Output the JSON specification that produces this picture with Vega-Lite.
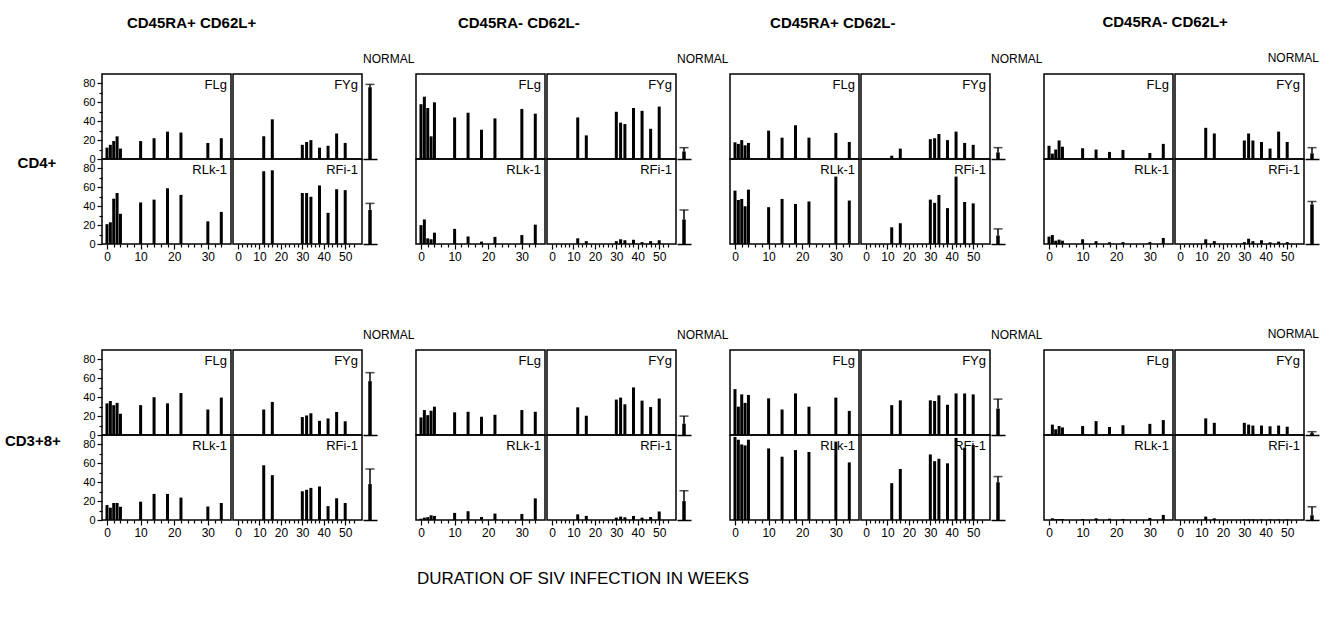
{
  "$schema": "https://vega.github.io/schema/vega-lite/v6.json",
  "padding": {"left": 4, "top": 15, "right": 5, "bottom": 5},
  "spacing": 66,
  "title": {"text": "DURATION OF SIV INFECTION IN WEEKS", "orient": "bottom", "frame": "bounds", "anchor": "middle", "dx": -79, "offset": 33, "fontSize": 17, "fontWeight": "normal"},
  "vconcat": [
    {
      "hconcat": [
        {
          "hconcat": [
            {"data": {"name": "cd4_1L"}, "facet": {"row": {"field": "virus", "type": "nominal", "header": {"labels": false, "title": null}}}, "spacing": 0, "bounds": "flush",
             "spec": {"width": 129, "height": 85,
              "layer": [
                {"mark": {"type": "bar", "orient": "vertical", "width": 3},
                 "encoding": {
                  "x": {"field": "week", "type": "quantitative", "scale": {"domain": [0, 35.4], "nice": false, "zero": false}, "axis": {"values": [0,2,4,6,8,10,12,14,16,18,20,22,24,26,28,30,32,34], "labelExpr": "datum.value % 10 === 0 ? datum.label : ''", "tickSize": {"condition": {"test": "datum.value % 10 === 0", "value": 5}, "value": 3}, "title": null, "domain": false, "labelFontSize": 12, "labelOverlap": false, "labelFlush": true, "labelPadding": 2}},
                  "y": {"field": "pct", "type": "quantitative", "scale": {"domain": [0, 90], "nice": false}, "axis": {"values": [0,10,20,30,40,50,60,70,80], "labelExpr": "datum.value % 20 === 0 ? datum.label : ''", "tickSize": {"condition": {"test": "datum.value % 20 === 0", "value": 5}, "value": 3}, "title": null, "domain": false, "labelFontSize": 11, "labelPadding": 2, "labelOverlap": false}}
                 }},
                {"transform": [{"aggregate": [{"op": "count", "as": "n"}], "groupby": ["virus"]}],
                 "mark": {"type": "text", "align": "right", "baseline": "top", "dx": -4, "dy": 5, "fontSize": 13},
                 "encoding": {"x": {"value": "width"}, "y": {"value": 0}, "text": {"field": "virus", "type": "nominal"}}}
              ]}},
            {"data": {"name": "cd4_1R"}, "facet": {"row": {"field": "virus", "type": "nominal", "header": {"labels": false, "title": null}}}, "spacing": 0, "bounds": "flush",
             "spec": {"width": 129, "height": 85,
              "layer": [
                {"mark": {"type": "bar", "orient": "vertical", "width": 3},
                 "encoding": {
                  "x": {"field": "week", "type": "quantitative", "scale": {"domain": [0, 55.5], "nice": false, "zero": false}, "axis": {"values": [0,2,4,6,8,10,12,14,16,18,20,22,24,26,28,30,32,34,36,38,40,42,44,46,48,50,52,54], "labelExpr": "datum.value % 10 === 0 ? datum.label : ''", "tickSize": {"condition": {"test": "datum.value % 10 === 0", "value": 5}, "value": 3}, "title": null, "domain": false, "labelFontSize": 12, "labelOverlap": false, "labelFlush": true, "labelPadding": 2}},
                  "y": {"field": "pct", "type": "quantitative", "scale": {"domain": [0, 90], "nice": false}, "axis": null}
                 }},
                {"transform": [{"aggregate": [{"op": "count", "as": "n"}], "groupby": ["virus"]}],
                 "mark": {"type": "text", "align": "right", "baseline": "top", "dx": -4, "dy": 5, "fontSize": 13},
                 "encoding": {"x": {"value": "width"}, "y": {"value": 0}, "text": {"field": "virus", "type": "nominal"}}}
              ]}},
            {"data": {"name": "cd4_1N"}, "facet": {"row": {"field": "virus", "type": "nominal", "header": {"labels": false, "title": null}}}, "spacing": 0, "bounds": "flush", "resolve": {"axis": {"x": "independent"}},
             "title": {"text": "NORMAL", "anchor": "start", "frame": "bounds", "offset": 8, "fontSize": 12, "fontWeight": "normal"},
             "spec": {"width": 14, "height": 85, "view": {"stroke": null},
              "encoding": {"x": {"field": "cell", "type": "nominal", "axis": {"labels": false, "ticks": false, "title": null, "domain": true, "domainWidth": 1.5}}},
              "layer": [
                {"mark": {"type": "bar", "width": 3.5}, "encoding": {"y": {"field": "mean", "type": "quantitative", "scale": {"domain": [0, 90], "nice": false}, "axis": null}}},
                {"mark": {"type": "rule", "strokeWidth": 1.5}, "encoding": {"y": {"field": "mean", "type": "quantitative"}, "y2": {"field": "upper"}}},
                {"mark": {"type": "tick", "thickness": 1.5, "size": 9, "orient": "horizontal"}, "encoding": {"y": {"field": "upper", "type": "quantitative"}}}
              ]}}
          ],
          "spacing": 0,
          "title": {"text": "CD45RA+ CD62L+", "frame": "bounds", "anchor": "middle", "dx": -57, "offset": 22, "fontSize": 15, "fontWeight": "bold"}
        },
        {
          "hconcat": [
            {"data": {"name": "cd4_2L"}, "facet": {"row": {"field": "virus", "type": "nominal", "header": {"labels": false, "title": null}}}, "spacing": 0, "bounds": "flush",
             "spec": {"width": 129, "height": 85,
              "layer": [
                {"mark": {"type": "bar", "orient": "vertical", "width": 3},
                 "encoding": {
                  "x": {"field": "week", "type": "quantitative", "scale": {"domain": [0, 35.4], "nice": false, "zero": false}, "axis": {"values": [0,2,4,6,8,10,12,14,16,18,20,22,24,26,28,30,32,34], "labelExpr": "datum.value % 10 === 0 ? datum.label : ''", "tickSize": {"condition": {"test": "datum.value % 10 === 0", "value": 5}, "value": 3}, "title": null, "domain": false, "labelFontSize": 12, "labelOverlap": false, "labelFlush": true, "labelPadding": 2}},
                  "y": {"field": "pct", "type": "quantitative", "scale": {"domain": [0, 90], "nice": false}, "axis": null}
                 }},
                {"transform": [{"aggregate": [{"op": "count", "as": "n"}], "groupby": ["virus"]}],
                 "mark": {"type": "text", "align": "right", "baseline": "top", "dx": -4, "dy": 5, "fontSize": 13},
                 "encoding": {"x": {"value": "width"}, "y": {"value": 0}, "text": {"field": "virus", "type": "nominal"}}}
              ]}},
            {"data": {"name": "cd4_2R"}, "facet": {"row": {"field": "virus", "type": "nominal", "header": {"labels": false, "title": null}}}, "spacing": 0, "bounds": "flush",
             "spec": {"width": 129, "height": 85,
              "layer": [
                {"mark": {"type": "bar", "orient": "vertical", "width": 3},
                 "encoding": {
                  "x": {"field": "week", "type": "quantitative", "scale": {"domain": [0, 55.5], "nice": false, "zero": false}, "axis": {"values": [0,2,4,6,8,10,12,14,16,18,20,22,24,26,28,30,32,34,36,38,40,42,44,46,48,50,52,54], "labelExpr": "datum.value % 10 === 0 ? datum.label : ''", "tickSize": {"condition": {"test": "datum.value % 10 === 0", "value": 5}, "value": 3}, "title": null, "domain": false, "labelFontSize": 12, "labelOverlap": false, "labelFlush": true, "labelPadding": 2}},
                  "y": {"field": "pct", "type": "quantitative", "scale": {"domain": [0, 90], "nice": false}, "axis": null}
                 }},
                {"transform": [{"aggregate": [{"op": "count", "as": "n"}], "groupby": ["virus"]}],
                 "mark": {"type": "text", "align": "right", "baseline": "top", "dx": -4, "dy": 5, "fontSize": 13},
                 "encoding": {"x": {"value": "width"}, "y": {"value": 0}, "text": {"field": "virus", "type": "nominal"}}}
              ]}},
            {"data": {"name": "cd4_2N"}, "facet": {"row": {"field": "virus", "type": "nominal", "header": {"labels": false, "title": null}}}, "spacing": 0, "bounds": "flush", "resolve": {"axis": {"x": "independent"}},
             "title": {"text": "NORMAL", "anchor": "start", "frame": "bounds", "offset": 8, "fontSize": 12, "fontWeight": "normal"},
             "spec": {"width": 14, "height": 85, "view": {"stroke": null},
              "encoding": {"x": {"field": "cell", "type": "nominal", "axis": {"labels": false, "ticks": false, "title": null, "domain": true, "domainWidth": 1.5}}},
              "layer": [
                {"mark": {"type": "bar", "width": 3.5}, "encoding": {"y": {"field": "mean", "type": "quantitative", "scale": {"domain": [0, 90], "nice": false}, "axis": null}}},
                {"mark": {"type": "rule", "strokeWidth": 1.5}, "encoding": {"y": {"field": "mean", "type": "quantitative"}, "y2": {"field": "upper"}}},
                {"mark": {"type": "tick", "thickness": 1.5, "size": 9, "orient": "horizontal"}, "encoding": {"y": {"field": "upper", "type": "quantitative"}}}
              ]}}
          ],
          "spacing": 0,
          "title": {"text": "CD45RA- CD62L-", "frame": "bounds", "anchor": "middle", "dx": -53, "offset": 22, "fontSize": 15, "fontWeight": "bold"}
        },
        {
          "hconcat": [
            {"data": {"name": "cd4_3L"}, "facet": {"row": {"field": "virus", "type": "nominal", "header": {"labels": false, "title": null}}}, "spacing": 0, "bounds": "flush",
             "spec": {"width": 129, "height": 85,
              "layer": [
                {"mark": {"type": "bar", "orient": "vertical", "width": 3},
                 "encoding": {
                  "x": {"field": "week", "type": "quantitative", "scale": {"domain": [0, 35.4], "nice": false, "zero": false}, "axis": {"values": [0,2,4,6,8,10,12,14,16,18,20,22,24,26,28,30,32,34], "labelExpr": "datum.value % 10 === 0 ? datum.label : ''", "tickSize": {"condition": {"test": "datum.value % 10 === 0", "value": 5}, "value": 3}, "title": null, "domain": false, "labelFontSize": 12, "labelOverlap": false, "labelFlush": true, "labelPadding": 2}},
                  "y": {"field": "pct", "type": "quantitative", "scale": {"domain": [0, 90], "nice": false}, "axis": null}
                 }},
                {"transform": [{"aggregate": [{"op": "count", "as": "n"}], "groupby": ["virus"]}],
                 "mark": {"type": "text", "align": "right", "baseline": "top", "dx": -4, "dy": 5, "fontSize": 13},
                 "encoding": {"x": {"value": "width"}, "y": {"value": 0}, "text": {"field": "virus", "type": "nominal"}}}
              ]}},
            {"data": {"name": "cd4_3R"}, "facet": {"row": {"field": "virus", "type": "nominal", "header": {"labels": false, "title": null}}}, "spacing": 0, "bounds": "flush",
             "spec": {"width": 129, "height": 85,
              "layer": [
                {"mark": {"type": "bar", "orient": "vertical", "width": 3},
                 "encoding": {
                  "x": {"field": "week", "type": "quantitative", "scale": {"domain": [0, 55.5], "nice": false, "zero": false}, "axis": {"values": [0,2,4,6,8,10,12,14,16,18,20,22,24,26,28,30,32,34,36,38,40,42,44,46,48,50,52,54], "labelExpr": "datum.value % 10 === 0 ? datum.label : ''", "tickSize": {"condition": {"test": "datum.value % 10 === 0", "value": 5}, "value": 3}, "title": null, "domain": false, "labelFontSize": 12, "labelOverlap": false, "labelFlush": true, "labelPadding": 2}},
                  "y": {"field": "pct", "type": "quantitative", "scale": {"domain": [0, 90], "nice": false}, "axis": null}
                 }},
                {"transform": [{"aggregate": [{"op": "count", "as": "n"}], "groupby": ["virus"]}],
                 "mark": {"type": "text", "align": "right", "baseline": "top", "dx": -4, "dy": 5, "fontSize": 13},
                 "encoding": {"x": {"value": "width"}, "y": {"value": 0}, "text": {"field": "virus", "type": "nominal"}}}
              ]}},
            {"data": {"name": "cd4_3N"}, "facet": {"row": {"field": "virus", "type": "nominal", "header": {"labels": false, "title": null}}}, "spacing": 0, "bounds": "flush", "resolve": {"axis": {"x": "independent"}},
             "title": {"text": "NORMAL", "anchor": "start", "frame": "bounds", "offset": 8, "fontSize": 12, "fontWeight": "normal"},
             "spec": {"width": 14, "height": 85, "view": {"stroke": null},
              "encoding": {"x": {"field": "cell", "type": "nominal", "axis": {"labels": false, "ticks": false, "title": null, "domain": true, "domainWidth": 1.5}}},
              "layer": [
                {"mark": {"type": "bar", "width": 3.5}, "encoding": {"y": {"field": "mean", "type": "quantitative", "scale": {"domain": [0, 90], "nice": false}, "axis": null}}},
                {"mark": {"type": "rule", "strokeWidth": 1.5}, "encoding": {"y": {"field": "mean", "type": "quantitative"}, "y2": {"field": "upper"}}},
                {"mark": {"type": "tick", "thickness": 1.5, "size": 9, "orient": "horizontal"}, "encoding": {"y": {"field": "upper", "type": "quantitative"}}}
              ]}}
          ],
          "spacing": 0,
          "title": {"text": "CD45RA+ CD62L-", "frame": "bounds", "anchor": "middle", "dx": -53, "offset": 22, "fontSize": 15, "fontWeight": "bold"}
        },
        {
          "hconcat": [
            {
              "hconcat": [
                {"data": {"name": "cd4_4L"}, "facet": {"row": {"field": "virus", "type": "nominal", "header": {"labels": false, "title": null}}}, "spacing": 0, "bounds": "flush",
                 "spec": {"width": 129, "height": 85,
                  "layer": [
                    {"mark": {"type": "bar", "orient": "vertical", "width": 3},
                     "encoding": {
                      "x": {"field": "week", "type": "quantitative", "scale": {"domain": [0, 35.4], "nice": false, "zero": false}, "axis": {"values": [0,2,4,6,8,10,12,14,16,18,20,22,24,26,28,30,32,34], "labelExpr": "datum.value % 10 === 0 ? datum.label : ''", "tickSize": {"condition": {"test": "datum.value % 10 === 0", "value": 5}, "value": 3}, "title": null, "domain": false, "labelFontSize": 12, "labelOverlap": false, "labelFlush": true, "labelPadding": 2}},
                      "y": {"field": "pct", "type": "quantitative", "scale": {"domain": [0, 90], "nice": false}, "axis": null}
                     }},
                    {"transform": [{"aggregate": [{"op": "count", "as": "n"}], "groupby": ["virus"]}],
                     "mark": {"type": "text", "align": "right", "baseline": "top", "dx": -4, "dy": 5, "fontSize": 13},
                     "encoding": {"x": {"value": "width"}, "y": {"value": 0}, "text": {"field": "virus", "type": "nominal"}}}
                  ]}},
                {"data": {"name": "cd4_4R"}, "facet": {"row": {"field": "virus", "type": "nominal", "header": {"labels": false, "title": null}}}, "spacing": 0, "bounds": "flush",
                 "spec": {"width": 129, "height": 85,
                  "layer": [
                    {"mark": {"type": "bar", "orient": "vertical", "width": 3},
                     "encoding": {
                      "x": {"field": "week", "type": "quantitative", "scale": {"domain": [0, 55.5], "nice": false, "zero": false}, "axis": {"values": [0,2,4,6,8,10,12,14,16,18,20,22,24,26,28,30,32,34,36,38,40,42,44,46,48,50,52,54], "labelExpr": "datum.value % 10 === 0 ? datum.label : ''", "tickSize": {"condition": {"test": "datum.value % 10 === 0", "value": 5}, "value": 3}, "title": null, "domain": false, "labelFontSize": 12, "labelOverlap": false, "labelFlush": true, "labelPadding": 2}},
                      "y": {"field": "pct", "type": "quantitative", "scale": {"domain": [0, 90], "nice": false}, "axis": null}
                     }},
                    {"transform": [{"aggregate": [{"op": "count", "as": "n"}], "groupby": ["virus"]}],
                     "mark": {"type": "text", "align": "right", "baseline": "top", "dx": -4, "dy": 5, "fontSize": 13},
                     "encoding": {"x": {"value": "width"}, "y": {"value": 0}, "text": {"field": "virus", "type": "nominal"}}}
                  ]}},
                {"data": {"name": "cd4_4N"}, "facet": {"row": {"field": "virus", "type": "nominal", "header": {"labels": false, "title": null}}}, "spacing": 0, "bounds": "flush", "resolve": {"axis": {"x": "independent"}},
                 "spec": {"width": 14, "height": 85, "view": {"stroke": null},
                  "encoding": {"x": {"field": "cell", "type": "nominal", "axis": {"labels": false, "ticks": false, "title": null, "domain": true, "domainWidth": 1.5}}},
                  "layer": [
                    {"mark": {"type": "bar", "width": 3.5}, "encoding": {"y": {"field": "mean", "type": "quantitative", "scale": {"domain": [0, 90], "nice": false}, "axis": null}}},
                    {"mark": {"type": "rule", "strokeWidth": 1.5}, "encoding": {"y": {"field": "mean", "type": "quantitative"}, "y2": {"field": "upper"}}},
                    {"mark": {"type": "tick", "thickness": 1.5, "size": 9, "orient": "horizontal"}, "encoding": {"y": {"field": "upper", "type": "quantitative"}}}
                  ]}}
              ],
              "spacing": 0,
              "title": {"text": "NORMAL", "anchor": "end", "frame": "bounds", "offset": 8, "fontSize": 12, "fontWeight": "normal"}
            }
          ],
          "title": {"text": "CD45RA- CD62L+", "frame": "bounds", "anchor": "middle", "dx": -16, "offset": 22, "fontSize": 15, "fontWeight": "bold"}
        }
      ],
      "spacing": 0,
      "title": {"text": "CD4+", "orient": "left", "frame": "bounds", "anchor": "middle", "angle": 0, "baseline": "middle", "dy": 24, "offset": 7, "fontSize": 15, "fontWeight": "bold"}
    },
    {
      "hconcat": [
        {
          "hconcat": [
            {"data": {"name": "cd8_1L"}, "facet": {"row": {"field": "virus", "type": "nominal", "header": {"labels": false, "title": null}}}, "spacing": 0, "bounds": "flush",
             "spec": {"width": 129, "height": 85,
              "layer": [
                {"mark": {"type": "bar", "orient": "vertical", "width": 3},
                 "encoding": {
                  "x": {"field": "week", "type": "quantitative", "scale": {"domain": [0, 35.4], "nice": false, "zero": false}, "axis": {"values": [0,2,4,6,8,10,12,14,16,18,20,22,24,26,28,30,32,34], "labelExpr": "datum.value % 10 === 0 ? datum.label : ''", "tickSize": {"condition": {"test": "datum.value % 10 === 0", "value": 5}, "value": 3}, "title": null, "domain": false, "labelFontSize": 12, "labelOverlap": false, "labelFlush": true, "labelPadding": 2}},
                  "y": {"field": "pct", "type": "quantitative", "scale": {"domain": [0, 90], "nice": false}, "axis": {"values": [0,10,20,30,40,50,60,70,80], "labelExpr": "datum.value % 20 === 0 ? datum.label : ''", "tickSize": {"condition": {"test": "datum.value % 20 === 0", "value": 5}, "value": 3}, "title": null, "domain": false, "labelFontSize": 11, "labelPadding": 2, "labelOverlap": false}}
                 }},
                {"transform": [{"aggregate": [{"op": "count", "as": "n"}], "groupby": ["virus"]}],
                 "mark": {"type": "text", "align": "right", "baseline": "top", "dx": -4, "dy": 5, "fontSize": 13},
                 "encoding": {"x": {"value": "width"}, "y": {"value": 0}, "text": {"field": "virus", "type": "nominal"}}}
              ]}},
            {"data": {"name": "cd8_1R"}, "facet": {"row": {"field": "virus", "type": "nominal", "header": {"labels": false, "title": null}}}, "spacing": 0, "bounds": "flush",
             "spec": {"width": 129, "height": 85,
              "layer": [
                {"mark": {"type": "bar", "orient": "vertical", "width": 3},
                 "encoding": {
                  "x": {"field": "week", "type": "quantitative", "scale": {"domain": [0, 55.5], "nice": false, "zero": false}, "axis": {"values": [0,2,4,6,8,10,12,14,16,18,20,22,24,26,28,30,32,34,36,38,40,42,44,46,48,50,52,54], "labelExpr": "datum.value % 10 === 0 ? datum.label : ''", "tickSize": {"condition": {"test": "datum.value % 10 === 0", "value": 5}, "value": 3}, "title": null, "domain": false, "labelFontSize": 12, "labelOverlap": false, "labelFlush": true, "labelPadding": 2}},
                  "y": {"field": "pct", "type": "quantitative", "scale": {"domain": [0, 90], "nice": false}, "axis": null}
                 }},
                {"transform": [{"aggregate": [{"op": "count", "as": "n"}], "groupby": ["virus"]}],
                 "mark": {"type": "text", "align": "right", "baseline": "top", "dx": -4, "dy": 5, "fontSize": 13},
                 "encoding": {"x": {"value": "width"}, "y": {"value": 0}, "text": {"field": "virus", "type": "nominal"}}}
              ]}},
            {"data": {"name": "cd8_1N"}, "facet": {"row": {"field": "virus", "type": "nominal", "header": {"labels": false, "title": null}}}, "spacing": 0, "bounds": "flush", "resolve": {"axis": {"x": "independent"}},
             "title": {"text": "NORMAL", "anchor": "start", "frame": "bounds", "offset": 8, "fontSize": 12, "fontWeight": "normal"},
             "spec": {"width": 14, "height": 85, "view": {"stroke": null},
              "encoding": {"x": {"field": "cell", "type": "nominal", "axis": {"labels": false, "ticks": false, "title": null, "domain": true, "domainWidth": 1.5}}},
              "layer": [
                {"mark": {"type": "bar", "width": 3.5}, "encoding": {"y": {"field": "mean", "type": "quantitative", "scale": {"domain": [0, 90], "nice": false}, "axis": null}}},
                {"mark": {"type": "rule", "strokeWidth": 1.5}, "encoding": {"y": {"field": "mean", "type": "quantitative"}, "y2": {"field": "upper"}}},
                {"mark": {"type": "tick", "thickness": 1.5, "size": 9, "orient": "horizontal"}, "encoding": {"y": {"field": "upper", "type": "quantitative"}}}
              ]}}
          ],
          "spacing": 0
        },
        {
          "hconcat": [
            {"data": {"name": "cd8_2L"}, "facet": {"row": {"field": "virus", "type": "nominal", "header": {"labels": false, "title": null}}}, "spacing": 0, "bounds": "flush",
             "spec": {"width": 129, "height": 85,
              "layer": [
                {"mark": {"type": "bar", "orient": "vertical", "width": 3},
                 "encoding": {
                  "x": {"field": "week", "type": "quantitative", "scale": {"domain": [0, 35.4], "nice": false, "zero": false}, "axis": {"values": [0,2,4,6,8,10,12,14,16,18,20,22,24,26,28,30,32,34], "labelExpr": "datum.value % 10 === 0 ? datum.label : ''", "tickSize": {"condition": {"test": "datum.value % 10 === 0", "value": 5}, "value": 3}, "title": null, "domain": false, "labelFontSize": 12, "labelOverlap": false, "labelFlush": true, "labelPadding": 2}},
                  "y": {"field": "pct", "type": "quantitative", "scale": {"domain": [0, 90], "nice": false}, "axis": null}
                 }},
                {"transform": [{"aggregate": [{"op": "count", "as": "n"}], "groupby": ["virus"]}],
                 "mark": {"type": "text", "align": "right", "baseline": "top", "dx": -4, "dy": 5, "fontSize": 13},
                 "encoding": {"x": {"value": "width"}, "y": {"value": 0}, "text": {"field": "virus", "type": "nominal"}}}
              ]}},
            {"data": {"name": "cd8_2R"}, "facet": {"row": {"field": "virus", "type": "nominal", "header": {"labels": false, "title": null}}}, "spacing": 0, "bounds": "flush",
             "spec": {"width": 129, "height": 85,
              "layer": [
                {"mark": {"type": "bar", "orient": "vertical", "width": 3},
                 "encoding": {
                  "x": {"field": "week", "type": "quantitative", "scale": {"domain": [0, 55.5], "nice": false, "zero": false}, "axis": {"values": [0,2,4,6,8,10,12,14,16,18,20,22,24,26,28,30,32,34,36,38,40,42,44,46,48,50,52,54], "labelExpr": "datum.value % 10 === 0 ? datum.label : ''", "tickSize": {"condition": {"test": "datum.value % 10 === 0", "value": 5}, "value": 3}, "title": null, "domain": false, "labelFontSize": 12, "labelOverlap": false, "labelFlush": true, "labelPadding": 2}},
                  "y": {"field": "pct", "type": "quantitative", "scale": {"domain": [0, 90], "nice": false}, "axis": null}
                 }},
                {"transform": [{"aggregate": [{"op": "count", "as": "n"}], "groupby": ["virus"]}],
                 "mark": {"type": "text", "align": "right", "baseline": "top", "dx": -4, "dy": 5, "fontSize": 13},
                 "encoding": {"x": {"value": "width"}, "y": {"value": 0}, "text": {"field": "virus", "type": "nominal"}}}
              ]}},
            {"data": {"name": "cd8_2N"}, "facet": {"row": {"field": "virus", "type": "nominal", "header": {"labels": false, "title": null}}}, "spacing": 0, "bounds": "flush", "resolve": {"axis": {"x": "independent"}},
             "title": {"text": "NORMAL", "anchor": "start", "frame": "bounds", "offset": 8, "fontSize": 12, "fontWeight": "normal"},
             "spec": {"width": 14, "height": 85, "view": {"stroke": null},
              "encoding": {"x": {"field": "cell", "type": "nominal", "axis": {"labels": false, "ticks": false, "title": null, "domain": true, "domainWidth": 1.5}}},
              "layer": [
                {"mark": {"type": "bar", "width": 3.5}, "encoding": {"y": {"field": "mean", "type": "quantitative", "scale": {"domain": [0, 90], "nice": false}, "axis": null}}},
                {"mark": {"type": "rule", "strokeWidth": 1.5}, "encoding": {"y": {"field": "mean", "type": "quantitative"}, "y2": {"field": "upper"}}},
                {"mark": {"type": "tick", "thickness": 1.5, "size": 9, "orient": "horizontal"}, "encoding": {"y": {"field": "upper", "type": "quantitative"}}}
              ]}}
          ],
          "spacing": 0
        },
        {
          "hconcat": [
            {"data": {"name": "cd8_3L"}, "facet": {"row": {"field": "virus", "type": "nominal", "header": {"labels": false, "title": null}}}, "spacing": 0, "bounds": "flush",
             "spec": {"width": 129, "height": 85,
              "layer": [
                {"mark": {"type": "bar", "orient": "vertical", "width": 3},
                 "encoding": {
                  "x": {"field": "week", "type": "quantitative", "scale": {"domain": [0, 35.4], "nice": false, "zero": false}, "axis": {"values": [0,2,4,6,8,10,12,14,16,18,20,22,24,26,28,30,32,34], "labelExpr": "datum.value % 10 === 0 ? datum.label : ''", "tickSize": {"condition": {"test": "datum.value % 10 === 0", "value": 5}, "value": 3}, "title": null, "domain": false, "labelFontSize": 12, "labelOverlap": false, "labelFlush": true, "labelPadding": 2}},
                  "y": {"field": "pct", "type": "quantitative", "scale": {"domain": [0, 90], "nice": false}, "axis": null}
                 }},
                {"transform": [{"aggregate": [{"op": "count", "as": "n"}], "groupby": ["virus"]}],
                 "mark": {"type": "text", "align": "right", "baseline": "top", "dx": -4, "dy": 5, "fontSize": 13},
                 "encoding": {"x": {"value": "width"}, "y": {"value": 0}, "text": {"field": "virus", "type": "nominal"}}}
              ]}},
            {"data": {"name": "cd8_3R"}, "facet": {"row": {"field": "virus", "type": "nominal", "header": {"labels": false, "title": null}}}, "spacing": 0, "bounds": "flush",
             "spec": {"width": 129, "height": 85,
              "layer": [
                {"mark": {"type": "bar", "orient": "vertical", "width": 3},
                 "encoding": {
                  "x": {"field": "week", "type": "quantitative", "scale": {"domain": [0, 55.5], "nice": false, "zero": false}, "axis": {"values": [0,2,4,6,8,10,12,14,16,18,20,22,24,26,28,30,32,34,36,38,40,42,44,46,48,50,52,54], "labelExpr": "datum.value % 10 === 0 ? datum.label : ''", "tickSize": {"condition": {"test": "datum.value % 10 === 0", "value": 5}, "value": 3}, "title": null, "domain": false, "labelFontSize": 12, "labelOverlap": false, "labelFlush": true, "labelPadding": 2}},
                  "y": {"field": "pct", "type": "quantitative", "scale": {"domain": [0, 90], "nice": false}, "axis": null}
                 }},
                {"transform": [{"aggregate": [{"op": "count", "as": "n"}], "groupby": ["virus"]}],
                 "mark": {"type": "text", "align": "right", "baseline": "top", "dx": -4, "dy": 5, "fontSize": 13},
                 "encoding": {"x": {"value": "width"}, "y": {"value": 0}, "text": {"field": "virus", "type": "nominal"}}}
              ]}},
            {"data": {"name": "cd8_3N"}, "facet": {"row": {"field": "virus", "type": "nominal", "header": {"labels": false, "title": null}}}, "spacing": 0, "bounds": "flush", "resolve": {"axis": {"x": "independent"}},
             "title": {"text": "NORMAL", "anchor": "start", "frame": "bounds", "offset": 8, "fontSize": 12, "fontWeight": "normal"},
             "spec": {"width": 14, "height": 85, "view": {"stroke": null},
              "encoding": {"x": {"field": "cell", "type": "nominal", "axis": {"labels": false, "ticks": false, "title": null, "domain": true, "domainWidth": 1.5}}},
              "layer": [
                {"mark": {"type": "bar", "width": 3.5}, "encoding": {"y": {"field": "mean", "type": "quantitative", "scale": {"domain": [0, 90], "nice": false}, "axis": null}}},
                {"mark": {"type": "rule", "strokeWidth": 1.5}, "encoding": {"y": {"field": "mean", "type": "quantitative"}, "y2": {"field": "upper"}}},
                {"mark": {"type": "tick", "thickness": 1.5, "size": 9, "orient": "horizontal"}, "encoding": {"y": {"field": "upper", "type": "quantitative"}}}
              ]}}
          ],
          "spacing": 0
        },
        {
          "hconcat": [
            {"data": {"name": "cd8_4L"}, "facet": {"row": {"field": "virus", "type": "nominal", "header": {"labels": false, "title": null}}}, "spacing": 0, "bounds": "flush",
             "spec": {"width": 129, "height": 85,
              "layer": [
                {"mark": {"type": "bar", "orient": "vertical", "width": 3},
                 "encoding": {
                  "x": {"field": "week", "type": "quantitative", "scale": {"domain": [0, 35.4], "nice": false, "zero": false}, "axis": {"values": [0,2,4,6,8,10,12,14,16,18,20,22,24,26,28,30,32,34], "labelExpr": "datum.value % 10 === 0 ? datum.label : ''", "tickSize": {"condition": {"test": "datum.value % 10 === 0", "value": 5}, "value": 3}, "title": null, "domain": false, "labelFontSize": 12, "labelOverlap": false, "labelFlush": true, "labelPadding": 2}},
                  "y": {"field": "pct", "type": "quantitative", "scale": {"domain": [0, 90], "nice": false}, "axis": null}
                 }},
                {"transform": [{"aggregate": [{"op": "count", "as": "n"}], "groupby": ["virus"]}],
                 "mark": {"type": "text", "align": "right", "baseline": "top", "dx": -4, "dy": 5, "fontSize": 13},
                 "encoding": {"x": {"value": "width"}, "y": {"value": 0}, "text": {"field": "virus", "type": "nominal"}}}
              ]}},
            {"data": {"name": "cd8_4R"}, "facet": {"row": {"field": "virus", "type": "nominal", "header": {"labels": false, "title": null}}}, "spacing": 0, "bounds": "flush",
             "spec": {"width": 129, "height": 85,
              "layer": [
                {"mark": {"type": "bar", "orient": "vertical", "width": 3},
                 "encoding": {
                  "x": {"field": "week", "type": "quantitative", "scale": {"domain": [0, 55.5], "nice": false, "zero": false}, "axis": {"values": [0,2,4,6,8,10,12,14,16,18,20,22,24,26,28,30,32,34,36,38,40,42,44,46,48,50,52,54], "labelExpr": "datum.value % 10 === 0 ? datum.label : ''", "tickSize": {"condition": {"test": "datum.value % 10 === 0", "value": 5}, "value": 3}, "title": null, "domain": false, "labelFontSize": 12, "labelOverlap": false, "labelFlush": true, "labelPadding": 2}},
                  "y": {"field": "pct", "type": "quantitative", "scale": {"domain": [0, 90], "nice": false}, "axis": null}
                 }},
                {"transform": [{"aggregate": [{"op": "count", "as": "n"}], "groupby": ["virus"]}],
                 "mark": {"type": "text", "align": "right", "baseline": "top", "dx": -4, "dy": 5, "fontSize": 13},
                 "encoding": {"x": {"value": "width"}, "y": {"value": 0}, "text": {"field": "virus", "type": "nominal"}}}
              ]}},
            {"data": {"name": "cd8_4N"}, "facet": {"row": {"field": "virus", "type": "nominal", "header": {"labels": false, "title": null}}}, "spacing": 0, "bounds": "flush", "resolve": {"axis": {"x": "independent"}},
             "spec": {"width": 14, "height": 85, "view": {"stroke": null},
              "encoding": {"x": {"field": "cell", "type": "nominal", "axis": {"labels": false, "ticks": false, "title": null, "domain": true, "domainWidth": 1.5}}},
              "layer": [
                {"mark": {"type": "bar", "width": 3.5}, "encoding": {"y": {"field": "mean", "type": "quantitative", "scale": {"domain": [0, 90], "nice": false}, "axis": null}}},
                {"mark": {"type": "rule", "strokeWidth": 1.5}, "encoding": {"y": {"field": "mean", "type": "quantitative"}, "y2": {"field": "upper"}}},
                {"mark": {"type": "tick", "thickness": 1.5, "size": 9, "orient": "horizontal"}, "encoding": {"y": {"field": "upper", "type": "quantitative"}}}
              ]}}
          ],
          "spacing": 0,
          "title": {"text": "NORMAL", "anchor": "end", "frame": "bounds", "offset": 8, "fontSize": 12, "fontWeight": "normal"}
        }
      ],
      "spacing": 0,
      "title": {"text": "CD3+8+", "orient": "left", "frame": "bounds", "anchor": "middle", "angle": 0, "baseline": "middle", "dy": 8, "offset": -6, "fontSize": 15, "fontWeight": "bold"}
    }
  ],
  "datasets": {
    "cd4_1L": [
      {"virus": "FLg", "week": 0, "pct": 12}, {"virus": "FLg", "week": 1, "pct": 15}, {"virus": "FLg", "week": 2, "pct": 19}, {"virus": "FLg", "week": 3, "pct": 24}, {"virus": "FLg", "week": 4, "pct": 11}, {"virus": "FLg", "week": 10, "pct": 19}, {"virus": "FLg", "week": 14, "pct": 22}, {"virus": "FLg", "week": 18, "pct": 29}, {"virus": "FLg", "week": 22, "pct": 28}, {"virus": "FLg", "week": 30, "pct": 17}, {"virus": "FLg", "week": 34, "pct": 22},
      {"virus": "RLk-1", "week": 0, "pct": 21}, {"virus": "RLk-1", "week": 1, "pct": 23}, {"virus": "RLk-1", "week": 2, "pct": 48}, {"virus": "RLk-1", "week": 3, "pct": 54}, {"virus": "RLk-1", "week": 4, "pct": 32}, {"virus": "RLk-1", "week": 10, "pct": 44}, {"virus": "RLk-1", "week": 14, "pct": 47}, {"virus": "RLk-1", "week": 18, "pct": 59}, {"virus": "RLk-1", "week": 22, "pct": 52}, {"virus": "RLk-1", "week": 30, "pct": 24}, {"virus": "RLk-1", "week": 34, "pct": 34}
    ],
    "cd4_1R": [
      {"virus": "FYg", "week": 12, "pct": 24}, {"virus": "FYg", "week": 16, "pct": 42}, {"virus": "FYg", "week": 30, "pct": 15}, {"virus": "FYg", "week": 32, "pct": 18}, {"virus": "FYg", "week": 34, "pct": 20}, {"virus": "FYg", "week": 38, "pct": 12}, {"virus": "FYg", "week": 42, "pct": 14}, {"virus": "FYg", "week": 46, "pct": 27}, {"virus": "FYg", "week": 50, "pct": 17},
      {"virus": "RFi-1", "week": 12, "pct": 77}, {"virus": "RFi-1", "week": 16, "pct": 78}, {"virus": "RFi-1", "week": 30, "pct": 54}, {"virus": "RFi-1", "week": 32, "pct": 54}, {"virus": "RFi-1", "week": 34, "pct": 50}, {"virus": "RFi-1", "week": 38, "pct": 62}, {"virus": "RFi-1", "week": 42, "pct": 33}, {"virus": "RFi-1", "week": 46, "pct": 58}, {"virus": "RFi-1", "week": 50, "pct": 57}
    ],
    "cd4_1N": [{"cell": "CD4+", "virus": "FYg", "mean": 76, "upper": 79}, {"cell": "CD4+", "virus": "RFi-1", "mean": 36, "upper": 43}],
    "cd4_2L": [
      {"virus": "FLg", "week": 0, "pct": 58}, {"virus": "FLg", "week": 1, "pct": 66}, {"virus": "FLg", "week": 2, "pct": 54}, {"virus": "FLg", "week": 3, "pct": 24}, {"virus": "FLg", "week": 4, "pct": 60}, {"virus": "FLg", "week": 10, "pct": 44}, {"virus": "FLg", "week": 14, "pct": 49}, {"virus": "FLg", "week": 18, "pct": 31}, {"virus": "FLg", "week": 22, "pct": 43}, {"virus": "FLg", "week": 30, "pct": 53}, {"virus": "FLg", "week": 34, "pct": 48},
      {"virus": "RLk-1", "week": 0, "pct": 20}, {"virus": "RLk-1", "week": 1, "pct": 26}, {"virus": "RLk-1", "week": 2, "pct": 6}, {"virus": "RLk-1", "week": 3, "pct": 5}, {"virus": "RLk-1", "week": 4, "pct": 12}, {"virus": "RLk-1", "week": 10, "pct": 16}, {"virus": "RLk-1", "week": 14, "pct": 8}, {"virus": "RLk-1", "week": 18, "pct": 2.5}, {"virus": "RLk-1", "week": 22, "pct": 7.5}, {"virus": "RLk-1", "week": 30, "pct": 9.5}, {"virus": "RLk-1", "week": 34, "pct": 20.5}
    ],
    "cd4_2R": [
      {"virus": "FYg", "week": 12, "pct": 44}, {"virus": "FYg", "week": 16, "pct": 25}, {"virus": "FYg", "week": 30, "pct": 50}, {"virus": "FYg", "week": 32, "pct": 38.5}, {"virus": "FYg", "week": 34, "pct": 37}, {"virus": "FYg", "week": 38, "pct": 54}, {"virus": "FYg", "week": 42, "pct": 51}, {"virus": "FYg", "week": 46, "pct": 32}, {"virus": "FYg", "week": 50, "pct": 55.5},
      {"virus": "RFi-1", "week": 12, "pct": 6}, {"virus": "RFi-1", "week": 16, "pct": 3}, {"virus": "RFi-1", "week": 30, "pct": 3}, {"virus": "RFi-1", "week": 32, "pct": 5}, {"virus": "RFi-1", "week": 34, "pct": 4}, {"virus": "RFi-1", "week": 38, "pct": 4.5}, {"virus": "RFi-1", "week": 42, "pct": 2}, {"virus": "RFi-1", "week": 46, "pct": 3}, {"virus": "RFi-1", "week": 50, "pct": 4}
    ],
    "cd4_2N": [{"cell": "CD4+", "virus": "FYg", "mean": 8, "upper": 12}, {"cell": "CD4+", "virus": "RFi-1", "mean": 26, "upper": 36}],
    "cd4_3L": [
      {"virus": "FLg", "week": 0, "pct": 17.7}, {"virus": "FLg", "week": 1, "pct": 16}, {"virus": "FLg", "week": 2, "pct": 20}, {"virus": "FLg", "week": 3, "pct": 14.5}, {"virus": "FLg", "week": 4, "pct": 17}, {"virus": "FLg", "week": 10, "pct": 30}, {"virus": "FLg", "week": 14, "pct": 22.6}, {"virus": "FLg", "week": 18, "pct": 35.7}, {"virus": "FLg", "week": 22, "pct": 22.6}, {"virus": "FLg", "week": 30, "pct": 27.6}, {"virus": "FLg", "week": 34, "pct": 18},
      {"virus": "RLk-1", "week": 0, "pct": 56.5}, {"virus": "RLk-1", "week": 1, "pct": 46.6}, {"virus": "RLk-1", "week": 2, "pct": 47.7}, {"virus": "RLk-1", "week": 3, "pct": 40}, {"virus": "RLk-1", "week": 4, "pct": 57.6}, {"virus": "RLk-1", "week": 10, "pct": 39}, {"virus": "RLk-1", "week": 14, "pct": 47.7}, {"virus": "RLk-1", "week": 18, "pct": 42.4}, {"virus": "RLk-1", "week": 22, "pct": 45}, {"virus": "RLk-1", "week": 30, "pct": 71.4}, {"virus": "RLk-1", "week": 34, "pct": 46}
    ],
    "cd4_3R": [
      {"virus": "FYg", "week": 12, "pct": 3.5}, {"virus": "FYg", "week": 16, "pct": 11}, {"virus": "FYg", "week": 30, "pct": 21}, {"virus": "FYg", "week": 32, "pct": 22}, {"virus": "FYg", "week": 34, "pct": 26.5}, {"virus": "FYg", "week": 38, "pct": 20}, {"virus": "FYg", "week": 42, "pct": 29}, {"virus": "FYg", "week": 46, "pct": 17}, {"virus": "FYg", "week": 50, "pct": 15},
      {"virus": "RFi-1", "week": 12, "pct": 17.7}, {"virus": "RFi-1", "week": 16, "pct": 22}, {"virus": "RFi-1", "week": 30, "pct": 47}, {"virus": "RFi-1", "week": 32, "pct": 43.5}, {"virus": "RFi-1", "week": 34, "pct": 52}, {"virus": "RFi-1", "week": 38, "pct": 38}, {"virus": "RFi-1", "week": 42, "pct": 71.4}, {"virus": "RFi-1", "week": 46, "pct": 44.5}, {"virus": "RFi-1", "week": 50, "pct": 43}
    ],
    "cd4_3N": [{"cell": "CD4+", "virus": "FYg", "mean": 7, "upper": 12}, {"cell": "CD4+", "virus": "RFi-1", "mean": 9, "upper": 16}],
    "cd4_4L": [
      {"virus": "FLg", "week": 0, "pct": 14}, {"virus": "FLg", "week": 1, "pct": 5.7}, {"virus": "FLg", "week": 2, "pct": 10}, {"virus": "FLg", "week": 3, "pct": 19.6}, {"virus": "FLg", "week": 4, "pct": 13}, {"virus": "FLg", "week": 10, "pct": 11.4}, {"virus": "FLg", "week": 14, "pct": 10}, {"virus": "FLg", "week": 18, "pct": 7.5}, {"virus": "FLg", "week": 22, "pct": 9.6}, {"virus": "FLg", "week": 30, "pct": 6.4}, {"virus": "FLg", "week": 34, "pct": 16},
      {"virus": "RLk-1", "week": 0, "pct": 7.8}, {"virus": "RLk-1", "week": 1, "pct": 9.5}, {"virus": "RLk-1", "week": 2, "pct": 3.5}, {"virus": "RLk-1", "week": 3, "pct": 4.6}, {"virus": "RLk-1", "week": 4, "pct": 3.5}, {"virus": "RLk-1", "week": 10, "pct": 5}, {"virus": "RLk-1", "week": 14, "pct": 3}, {"virus": "RLk-1", "week": 18, "pct": 1.8}, {"virus": "RLk-1", "week": 22, "pct": 2}, {"virus": "RLk-1", "week": 30, "pct": 2}, {"virus": "RLk-1", "week": 34, "pct": 6.4}
    ],
    "cd4_4R": [
      {"virus": "FYg", "week": 12, "pct": 33}, {"virus": "FYg", "week": 16, "pct": 27}, {"virus": "FYg", "week": 30, "pct": 19.6}, {"virus": "FYg", "week": 32, "pct": 27}, {"virus": "FYg", "week": 34, "pct": 19.6}, {"virus": "FYg", "week": 38, "pct": 18}, {"virus": "FYg", "week": 42, "pct": 11}, {"virus": "FYg", "week": 46, "pct": 29}, {"virus": "FYg", "week": 50, "pct": 18},
      {"virus": "RFi-1", "week": 12, "pct": 5}, {"virus": "RFi-1", "week": 16, "pct": 3}, {"virus": "RFi-1", "week": 30, "pct": 2}, {"virus": "RFi-1", "week": 32, "pct": 5.6}, {"virus": "RFi-1", "week": 34, "pct": 3}, {"virus": "RFi-1", "week": 38, "pct": 4}, {"virus": "RFi-1", "week": 42, "pct": 1.8}, {"virus": "RFi-1", "week": 46, "pct": 2.5}, {"virus": "RFi-1", "week": 50, "pct": 2}
    ],
    "cd4_4N": [{"cell": "CD4+", "virus": "FYg", "mean": 6, "upper": 12}, {"cell": "CD4+", "virus": "RFi-1", "mean": 42, "upper": 45}],
    "cd8_1L": [
      {"virus": "FLg", "week": 0, "pct": 33.5}, {"virus": "FLg", "week": 1, "pct": 36}, {"virus": "FLg", "week": 2, "pct": 31.6}, {"virus": "FLg", "week": 3, "pct": 34}, {"virus": "FLg", "week": 4, "pct": 22.5}, {"virus": "FLg", "week": 10, "pct": 31.6}, {"virus": "FLg", "week": 14, "pct": 40}, {"virus": "FLg", "week": 18, "pct": 33.5}, {"virus": "FLg", "week": 22, "pct": 44.4}, {"virus": "FLg", "week": 30, "pct": 27}, {"virus": "FLg", "week": 34, "pct": 39.6},
      {"virus": "RLk-1", "week": 0, "pct": 15.8}, {"virus": "RLk-1", "week": 1, "pct": 13}, {"virus": "RLk-1", "week": 2, "pct": 18}, {"virus": "RLk-1", "week": 3, "pct": 18}, {"virus": "RLk-1", "week": 4, "pct": 14}, {"virus": "RLk-1", "week": 10, "pct": 19.4}, {"virus": "RLk-1", "week": 14, "pct": 27.6}, {"virus": "RLk-1", "week": 18, "pct": 27.6}, {"virus": "RLk-1", "week": 22, "pct": 23.7}, {"virus": "RLk-1", "week": 30, "pct": 14.3}, {"virus": "RLk-1", "week": 34, "pct": 18}
    ],
    "cd8_1R": [
      {"virus": "FYg", "week": 12, "pct": 27}, {"virus": "FYg", "week": 16, "pct": 35}, {"virus": "FYg", "week": 30, "pct": 19}, {"virus": "FYg", "week": 32, "pct": 20.7}, {"virus": "FYg", "week": 34, "pct": 23}, {"virus": "FYg", "week": 38, "pct": 15}, {"virus": "FYg", "week": 42, "pct": 17.5}, {"virus": "FYg", "week": 46, "pct": 24.4}, {"virus": "FYg", "week": 50, "pct": 14.5},
      {"virus": "RFi-1", "week": 12, "pct": 58}, {"virus": "RFi-1", "week": 16, "pct": 47.5}, {"virus": "RFi-1", "week": 30, "pct": 30.4}, {"virus": "RFi-1", "week": 32, "pct": 32}, {"virus": "RFi-1", "week": 34, "pct": 34}, {"virus": "RFi-1", "week": 38, "pct": 35.5}, {"virus": "RFi-1", "week": 42, "pct": 14.7}, {"virus": "RFi-1", "week": 46, "pct": 23}, {"virus": "RFi-1", "week": 50, "pct": 18}
    ],
    "cd8_1N": [{"cell": "CD3+8+", "virus": "FYg", "mean": 57, "upper": 66}, {"cell": "CD3+8+", "virus": "RFi-1", "mean": 38, "upper": 54}],
    "cd8_2L": [
      {"virus": "FLg", "week": 0, "pct": 18.6}, {"virus": "FLg", "week": 1, "pct": 26.4}, {"virus": "FLg", "week": 2, "pct": 21}, {"virus": "FLg", "week": 3, "pct": 25.7}, {"virus": "FLg", "week": 4, "pct": 30}, {"virus": "FLg", "week": 10, "pct": 24}, {"virus": "FLg", "week": 14, "pct": 24.6}, {"virus": "FLg", "week": 18, "pct": 19.3}, {"virus": "FLg", "week": 22, "pct": 21.4}, {"virus": "FLg", "week": 30, "pct": 26.4}, {"virus": "FLg", "week": 34, "pct": 24.6},
      {"virus": "RLk-1", "week": 0, "pct": 1.4}, {"virus": "RLk-1", "week": 1, "pct": 2.5}, {"virus": "RLk-1", "week": 2, "pct": 3}, {"virus": "RLk-1", "week": 3, "pct": 5}, {"virus": "RLk-1", "week": 4, "pct": 4.3}, {"virus": "RLk-1", "week": 10, "pct": 7.5}, {"virus": "RLk-1", "week": 14, "pct": 9.3}, {"virus": "RLk-1", "week": 18, "pct": 3.2}, {"virus": "RLk-1", "week": 22, "pct": 6.8}, {"virus": "RLk-1", "week": 30, "pct": 6.4}, {"virus": "RLk-1", "week": 34, "pct": 22.9}
    ],
    "cd8_2R": [
      {"virus": "FYg", "week": 12, "pct": 29.3}, {"virus": "FYg", "week": 16, "pct": 20.4}, {"virus": "FYg", "week": 30, "pct": 37.5}, {"virus": "FYg", "week": 32, "pct": 39.6}, {"virus": "FYg", "week": 34, "pct": 32.5}, {"virus": "FYg", "week": 38, "pct": 50.4}, {"virus": "FYg", "week": 42, "pct": 36.4}, {"virus": "FYg", "week": 46, "pct": 29.6}, {"virus": "FYg", "week": 50, "pct": 38.6},
      {"virus": "RFi-1", "week": 12, "pct": 6}, {"virus": "RFi-1", "week": 16, "pct": 4.3}, {"virus": "RFi-1", "week": 30, "pct": 2.5}, {"virus": "RFi-1", "week": 32, "pct": 3.6}, {"virus": "RFi-1", "week": 34, "pct": 2.9}, {"virus": "RFi-1", "week": 38, "pct": 4.3}, {"virus": "RFi-1", "week": 42, "pct": 2.5}, {"virus": "RFi-1", "week": 46, "pct": 3.2}, {"virus": "RFi-1", "week": 50, "pct": 9}
    ],
    "cd8_2N": [{"cell": "CD3+8+", "virus": "FYg", "mean": 12, "upper": 20}, {"cell": "CD3+8+", "virus": "RFi-1", "mean": 20, "upper": 31}],
    "cd8_3L": [
      {"virus": "FLg", "week": 0, "pct": 48.6}, {"virus": "FLg", "week": 1, "pct": 30}, {"virus": "FLg", "week": 2, "pct": 43}, {"virus": "FLg", "week": 3, "pct": 34}, {"virus": "FLg", "week": 4, "pct": 42.4}, {"virus": "FLg", "week": 10, "pct": 38.8}, {"virus": "FLg", "week": 14, "pct": 27}, {"virus": "FLg", "week": 18, "pct": 44}, {"virus": "FLg", "week": 22, "pct": 30}, {"virus": "FLg", "week": 30, "pct": 39.6}, {"virus": "FLg", "week": 34, "pct": 25.5},
      {"virus": "RLk-1", "week": 0, "pct": 88}, {"virus": "RLk-1", "week": 1, "pct": 85}, {"virus": "RLk-1", "week": 2, "pct": 80}, {"virus": "RLk-1", "week": 3, "pct": 79}, {"virus": "RLk-1", "week": 4, "pct": 85}, {"virus": "RLk-1", "week": 10, "pct": 75.8}, {"virus": "RLk-1", "week": 14, "pct": 67}, {"virus": "RLk-1", "week": 18, "pct": 74}, {"virus": "RLk-1", "week": 22, "pct": 72}, {"virus": "RLk-1", "week": 30, "pct": 83}, {"virus": "RLk-1", "week": 34, "pct": 61}
    ],
    "cd8_3R": [
      {"virus": "FYg", "week": 12, "pct": 31.6}, {"virus": "FYg", "week": 16, "pct": 36.7}, {"virus": "FYg", "week": 30, "pct": 36.7}, {"virus": "FYg", "week": 32, "pct": 36}, {"virus": "FYg", "week": 34, "pct": 42}, {"virus": "FYg", "week": 38, "pct": 32}, {"virus": "FYg", "week": 42, "pct": 44}, {"virus": "FYg", "week": 46, "pct": 44}, {"virus": "FYg", "week": 50, "pct": 43},
      {"virus": "RFi-1", "week": 12, "pct": 39}, {"virus": "RFi-1", "week": 16, "pct": 54}, {"virus": "RFi-1", "week": 30, "pct": 69.4}, {"virus": "RFi-1", "week": 32, "pct": 62.3}, {"virus": "RFi-1", "week": 34, "pct": 64.8}, {"virus": "RFi-1", "week": 38, "pct": 60}, {"virus": "RFi-1", "week": 42, "pct": 87}, {"virus": "RFi-1", "week": 46, "pct": 76.5}, {"virus": "RFi-1", "week": 50, "pct": 79.4}
    ],
    "cd8_3N": [{"cell": "CD3+8+", "virus": "FYg", "mean": 28, "upper": 38}, {"cell": "CD3+8+", "virus": "RFi-1", "mean": 40, "upper": 46}],
    "cd8_4L": [
      {"virus": "FLg", "week": 1, "pct": 11}, {"virus": "FLg", "week": 2, "pct": 6}, {"virus": "FLg", "week": 3, "pct": 9.5}, {"virus": "FLg", "week": 4, "pct": 8}, {"virus": "FLg", "week": 10, "pct": 9.5}, {"virus": "FLg", "week": 14, "pct": 14.7}, {"virus": "FLg", "week": 18, "pct": 8.5}, {"virus": "FLg", "week": 22, "pct": 10.3}, {"virus": "FLg", "week": 30, "pct": 11.8}, {"virus": "FLg", "week": 34, "pct": 15.8},
      {"virus": "RLk-1", "week": 1, "pct": 1.8}, {"virus": "RLk-1", "week": 2, "pct": 0.7}, {"virus": "RLk-1", "week": 3, "pct": 1}, {"virus": "RLk-1", "week": 4, "pct": 1}, {"virus": "RLk-1", "week": 10, "pct": 1}, {"virus": "RLk-1", "week": 14, "pct": 1.8}, {"virus": "RLk-1", "week": 18, "pct": 1.4}, {"virus": "RLk-1", "week": 22, "pct": 1}, {"virus": "RLk-1", "week": 30, "pct": 2.2}, {"virus": "RLk-1", "week": 34, "pct": 5.4}
    ],
    "cd8_4R": [
      {"virus": "FYg", "week": 12, "pct": 17.6}, {"virus": "FYg", "week": 16, "pct": 12.9}, {"virus": "FYg", "week": 30, "pct": 12.9}, {"virus": "FYg", "week": 32, "pct": 11}, {"virus": "FYg", "week": 34, "pct": 10}, {"virus": "FYg", "week": 38, "pct": 10}, {"virus": "FYg", "week": 42, "pct": 9.2}, {"virus": "FYg", "week": 46, "pct": 10}, {"virus": "FYg", "week": 50, "pct": 8.8},
      {"virus": "RFi-1", "week": 12, "pct": 3.6}, {"virus": "RFi-1", "week": 16, "pct": 1.8}, {"virus": "RFi-1", "week": 30, "pct": 0.5}, {"virus": "RFi-1", "week": 32, "pct": 0.5}, {"virus": "RFi-1", "week": 34, "pct": 0.5}, {"virus": "RFi-1", "week": 38, "pct": 0.5}, {"virus": "RFi-1", "week": 42, "pct": 0.5}, {"virus": "RFi-1", "week": 46, "pct": 0.5}, {"virus": "RFi-1", "week": 50, "pct": 0.5}
    ],
    "cd8_4N": [{"cell": "CD3+8+", "virus": "FYg", "mean": 2, "upper": 3.5}, {"cell": "CD3+8+", "virus": "RFi-1", "mean": 5, "upper": 14}]
  },
  "config": {
    "font": "Liberation Sans",
    "view": {"stroke": "black", "strokeWidth": 1.5},
    "axis": {"labelColor": "black", "tickColor": "black", "domainColor": "black", "labelFont": "Liberation Sans", "tickWidth": 1.2, "grid": false},
    "bar": {"color": "black"},
    "rule": {"color": "black"},
    "tick": {"color": "black"},
    "text": {"color": "black", "font": "Liberation Sans"},
    "title": {"color": "black", "font": "Liberation Sans"}
  }
}
